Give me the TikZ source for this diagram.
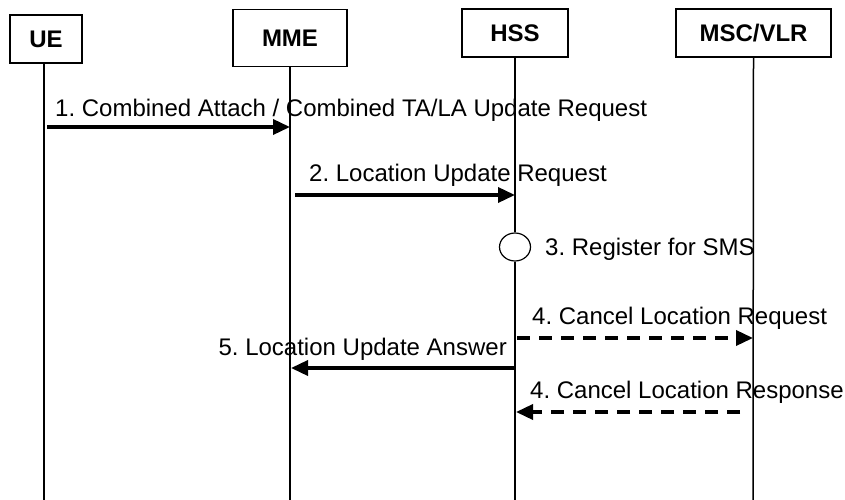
\documentclass[tikz,border=0pt]{standalone}
\usepackage{fontspec}
\setmainfont{Liberation Sans}
\usetikzlibrary{arrows.meta,shapes.geometric}
\begin{document}
\begin{tikzpicture}[x=1pt,y=-1pt,
  entity/.style={draw,line width=1.2pt,inner sep=0pt,font=\fontsize{24}{28}\selectfont\bfseries},
  life/.style={line width=1.5pt},
  msg/.style={line width=3.5pt,-{Triangle[length=17pt,width=15pt]}},
  dmsg/.style={msg,dash pattern=on 13pt off 9pt},
  lbl/.style={inner sep=0pt,font=\fontsize{24}{28}\selectfont\frenchspacing}]
\useasboundingbox (0,0) rectangle (845,500);
% entities
\node[entity,minimum width=72pt,minimum height=48pt] (ue) at (46,39) {UE};
\node[entity,minimum width=114pt,minimum height=57pt] (mme) at (290,38) {MME};
\node[entity,minimum width=106pt,minimum height=48pt] (hss) at (515,33) {HSS};
\node[entity,minimum width=155pt,minimum height=48pt] (msc) at (753.5,33) {MSC/VLR};
% lifeline ends
\coordinate (ueb) at (44,500);
\coordinate (mmeb) at (290,500);
\coordinate (hssb) at (515,500);
\coordinate (mscb) at (753,500);
\coordinate (uet) at (44,63);
\node[draw,line width=1.2pt,ellipse,minimum width=31pt,minimum height=28pt,inner sep=0pt] (reg) at (515,247) {};
\draw[life] (uet) -- (ueb);
\draw[life] (mme.south) -- (mmeb);
\draw[life] (hss.south) -- (reg.north);
\draw[life] (reg.south) -- (hssb);
\draw[life] (msc.south) -- (mscb);
% message points
\coordinate (m1a) at (47,127);  \coordinate (m1b) at (290,127);
\coordinate (m2a) at (295,195); \coordinate (m2b) at (515,195);
\coordinate (m4a) at (517,338); \coordinate (m4b) at (753,338);
\coordinate (m5a) at (515,368); \coordinate (m5b) at (291,368);
\coordinate (m6a) at (740,412); \coordinate (m6b) at (516,412);
\draw[msg] (m1a) -- (m1b);
\draw[msg] (m2a) -- (m2b);
\draw[dmsg] (m4a) -- (m4b);
\draw[msg] (m5a) -- (m5b);
\draw[dmsg] (m6a) -- (m6b);
% labels
\node[lbl,anchor=base west] (l1) at (55,117) {1. Combined Attach / Combined TA/LA Update Request};
\node[lbl,anchor=base west] (l2) at (309,181) {2. Location Update Request};
\node[lbl,anchor=base west] (l3) at (545,255) {3. Register for SMS};
\node[lbl,anchor=base west] (l4) at (532,324) {4. Cancel Location Request};
\node[lbl,anchor=base east] (l5) at (507,355) {5. Location Update Answer};
\node[lbl,anchor=base west] (l6) at (530,398) {4. Cancel Location Response};
\end{tikzpicture}
\end{document}
